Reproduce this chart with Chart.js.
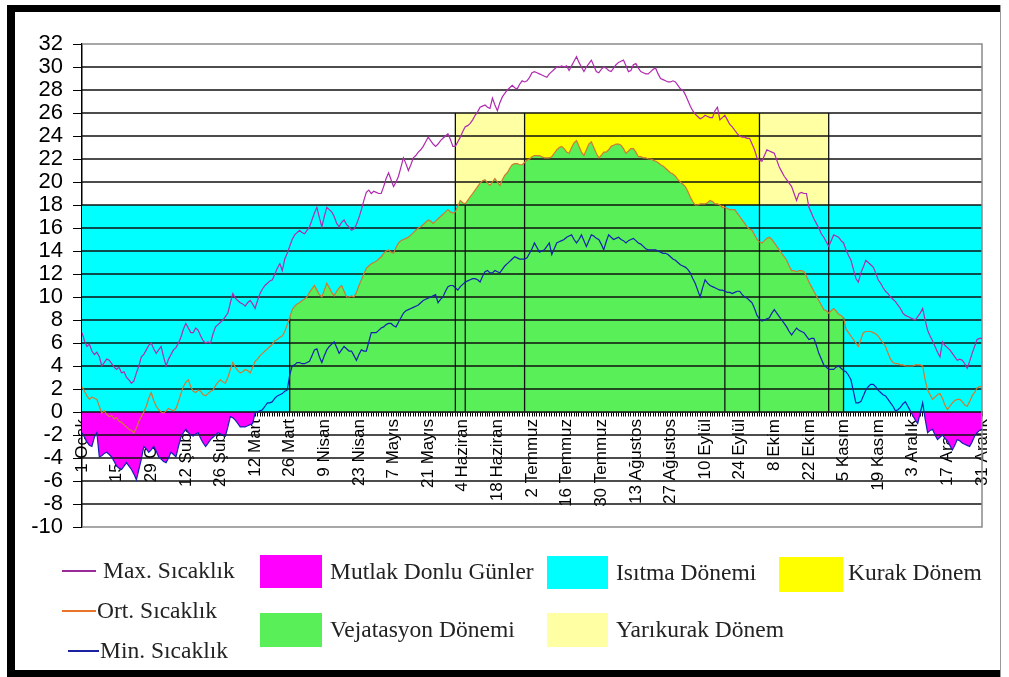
<!DOCTYPE html>
<html><head><meta charset="utf-8">
<script src="https://cdn.jsdelivr.net/npm/chart.js@4"></script>
<style>
html,body{margin:0;padding:0;background:#fff;}
#wrap{position:relative;width:1009px;height:677px;overflow:hidden;background:#fff;}
#c{position:absolute;left:0;top:0;}
.frame{position:absolute;background:#000;}
.lgt{position:absolute;font-family:'Liberation Serif','Times New Roman',serif;font-size:23.5px;color:#222;white-space:nowrap;height:26px;line-height:26px;}
.sw{position:absolute;}
</style></head><body>
<div id="wrap">
<canvas id="c" width="1009" height="677"></canvas>
<div class="frame" style="left:7px;top:5px;width:8px;height:672px"></div>
<div class="frame" style="left:7px;top:5px;width:994px;height:7px"></div>
<div class="frame" style="left:7px;top:670px;width:994px;height:7px"></div>
<div class="frame" style="left:1000px;top:5px;width:1px;height:672px;background:#999"></div>
<div id="legend"></div>
</div>
<script>
// ---------- DATA ----------
const tickLabels = ["1 Ocak","15 Ocak","29 Ocak","12 Şubat","26 Şubat","12 Mart","26 Mart","9 Nisan","23 Nisan","7 Mayıs","21 Mayıs","4 Haziran","18 Haziran","2 Temmuz","16 Temmuz","30 Temmuz","13 Ağustos","27 Ağustos","10 Eylül","24 Eylül","8 Ekim","22 Ekim","5 Kasım","19 Kasım","3 Aralık","17 Aralık","31 Aralık"];
const tickStep = 14;

const maxTemp = [
 6.9,6.2,5.7,5.9,5.3,5.0,5.2,4.8,4.0,4.3,4.6,4.5,4.2,3.9,3.7,3.9,3.4,3.5,3.0,2.8,2.5,2.7,3.4,4.0,4.8,5.0,5.4,5.8,6.0,5.5,5.1,
 5.4,5.7,4.8,4.0,4.6,5.0,5.4,5.6,6.0,6.5,7.2,7.7,7.3,6.9,6.9,7.3,7.1,6.6,6.2,6.0,6.1,6.0,6.8,7.4,7.6,7.8,8.0,8.3,
 8.6,9.5,10.3,9.9,9.7,9.5,9.4,9.2,9.5,9.7,9.4,9.0,9.7,10.3,10.7,11.0,11.2,11.4,11.5,12.0,12.5,12.9,12.3,13.3,13.8,14.4,15.0,15.4,15.6,15.8,15.6,
 15.5,15.8,16.1,16.7,17.3,17.8,16.9,16.1,17.0,17.8,17.6,17.4,17.0,16.4,16.1,16.5,16.7,16.3,16.1,15.8,15.9,16.3,16.9,17.6,18.4,19.1,19.3,19.0,19.2,19.1,
 19.0,19.0,19.6,20.3,20.8,20.2,19.6,20.0,20.5,21.3,22.1,21.6,21.0,21.5,22.1,22.3,22.6,22.8,23.1,23.5,23.9,23.6,23.3,23.1,23.3,23.6,23.8,24.0,24.2,23.7,23.1,
 23.1,23.5,23.9,24.4,24.8,24.9,25.1,25.4,25.8,26.1,26.5,26.6,26.7,26.5,26.4,27.3,26.7,26.2,26.9,27.4,27.7,28.0,28.2,28.4,28.2,28.1,28.5,28.8,28.7,28.8,
 29.1,29.5,29.6,29.5,29.4,29.3,29.2,29.1,29.4,29.6,29.8,30.0,30.0,30.1,30.0,30.1,29.7,30.1,30.5,30.9,30.4,30.0,29.6,30.0,30.3,30.6,30.1,29.6,29.5,29.8,30.0,
 29.9,29.7,29.6,29.9,30.2,30.4,30.5,30.6,30.1,29.6,29.7,30.2,30.3,29.9,29.6,29.5,29.4,29.4,29.6,29.8,29.9,29.4,29.0,28.9,28.8,28.7,28.7,28.8,28.7,28.4,28.1,
 28.0,27.6,27.1,26.6,26.2,25.9,25.7,25.5,25.6,25.8,25.7,25.6,25.6,26.2,26.5,25.4,25.6,25.8,25.4,25.0,24.8,24.5,24.2,24.0,23.9,23.9,23.8,23.8,23.3,22.8,
 22.1,21.9,21.8,22.3,22.8,22.7,22.6,22.5,21.9,21.3,20.9,20.5,20.2,19.9,19.6,19.0,18.4,19.0,19.1,19.0,19.0,17.8,17.3,16.8,16.4,16.0,15.5,15.2,14.8,14.4,14.9,
 15.4,15.3,15.2,14.9,14.7,14.1,13.6,13.2,12.4,11.6,11.3,12.1,12.6,13.2,13.0,12.8,12.6,12.1,11.5,11.2,10.8,10.5,10.3,10.0,9.8,9.6,9.3,9.0,8.6,8.4,
 8.3,8.2,8.1,8.0,8.3,8.6,9.0,8.0,7.1,6.6,6.2,5.7,5.2,4.8,6.1,5.8,5.6,5.4,5.1,4.8,4.5,4.6,4.5,4.2,3.8,4.4,5.1,5.7,6.3,6.4,6.4
];
const avgTemp = [
 2.2,1.8,1.4,1.1,1.3,1.2,1.1,0.5,-0.1,0.1,-0.2,-0.4,-0.3,-0.6,-0.5,-0.8,-0.9,-1.1,-1.3,-1.5,-1.6,-1.8,-1.4,-0.8,-0.4,0.0,0.5,1.2,1.7,1.0,0.5,
 0.2,0.0,-0.1,0.1,0.3,0.2,0.1,0.3,0.9,1.6,2.2,2.6,2.8,2.2,1.8,1.7,1.9,1.8,1.5,1.4,1.6,1.8,1.9,2.3,2.6,2.8,2.6,2.5,
 3.0,3.7,4.3,3.9,3.6,3.4,3.5,3.7,3.6,3.4,3.9,4.4,4.6,4.9,5.1,5.3,5.5,5.7,5.9,6.2,6.3,6.5,6.6,7.0,7.6,8.2,8.9,9.2,9.4,9.5,9.7,
 9.8,10.0,10.4,10.7,11.0,10.6,10.2,10.0,10.6,11.2,10.8,10.4,10.1,10.5,10.8,11.0,10.5,10.0,10.0,10.1,10.0,10.4,11.0,11.5,12.0,12.5,12.7,12.9,13.0,13.1,
 13.3,13.5,13.8,14.0,14.1,13.9,13.8,14.3,14.7,14.9,15.0,15.1,15.2,15.4,15.6,15.8,16.0,16.1,16.3,16.5,16.7,16.6,16.4,16.6,16.8,17.0,17.2,17.4,17.6,17.4,17.3,
 17.4,17.9,18.4,18.2,18.1,18.4,18.7,19.0,19.3,19.6,19.9,20.1,20.2,19.9,19.7,20.0,20.3,20.0,19.7,20.2,20.6,20.8,21.2,21.5,21.6,21.6,21.5,21.5,21.7,21.9,
 22.0,22.2,22.3,22.3,22.3,22.2,22.1,22.1,22.1,22.2,22.5,22.8,23.0,23.1,22.9,22.6,22.5,23.0,23.4,23.6,23.1,22.6,22.3,22.8,23.3,23.5,23.0,22.5,22.1,22.3,22.6,
 22.6,22.8,23.1,23.2,23.3,23.3,23.2,22.9,22.5,22.7,22.9,22.9,22.6,22.2,22.2,22.1,22.1,22.0,22.0,21.9,21.8,21.7,21.5,21.4,21.2,21.0,20.8,20.7,20.5,20.2,20.0,
 19.8,19.6,19.2,18.7,18.3,18.0,18.0,18.1,18.1,18.1,18.2,18.4,18.3,18.1,18.1,18.0,17.8,17.8,17.7,17.6,17.6,17.6,17.3,17.0,16.7,16.4,16.1,15.9,15.8,15.4,
 15.0,14.8,14.7,14.9,15.1,15.2,15.0,14.7,14.4,14.1,13.8,13.5,13.2,12.7,12.3,12.3,12.2,12.3,12.3,12.2,11.8,11.3,10.9,10.5,10.1,9.7,9.3,8.9,8.8,8.6,8.8,
 9.0,8.8,8.5,8.4,8.2,7.2,6.9,6.6,6.3,6.0,5.7,6.3,6.9,7.0,7.0,7.0,6.9,6.8,6.6,6.3,6.0,5.7,5.1,4.6,4.3,4.2,4.2,4.1,4.1,4.0,
 4.0,4.0,4.0,4.1,4.1,4.1,4.0,2.8,1.9,1.5,1.1,1.3,1.5,1.6,1.2,0.6,0.2,0.5,0.8,1.0,1.1,1.1,0.9,0.6,0.5,0.9,1.4,1.7,2.1,2.2,2.2
];
const minTemp = [
 -1.8,-2.2,-2.6,-2.9,-3.0,-2.2,-1.8,-3.9,-3.8,-3.6,-3.5,-3.7,-3.9,-4.3,-4.7,-4.9,-5.0,-4.7,-4.4,-4.7,-5.0,-5.4,-5.9,-5.0,-4.1,-3.0,-3.2,-3.5,-3.3,-3.0,-3.4,
 -3.9,-4.1,-4.3,-4.4,-4.0,-3.5,-3.7,-3.9,-3.0,-2.2,-1.8,-1.5,-1.8,-2.0,-2.1,-1.9,-1.8,-2.3,-2.7,-3.0,-2.7,-2.4,-2.2,-2.0,-1.8,-1.9,-2.0,-2.1,
 -1.3,-0.4,-0.5,-0.7,-1.0,-1.3,-1.3,-1.3,-1.2,-1.1,-1.0,-0.1,0.0,0.1,0.2,0.5,0.8,0.8,0.9,1.2,1.4,1.5,1.6,1.8,1.9,3.2,4.0,4.1,4.3,4.3,4.2,
 4.2,4.3,4.4,4.9,5.4,5.5,4.8,4.3,4.9,5.4,5.7,5.9,6.1,5.6,5.1,5.4,5.7,5.5,5.3,5.3,4.9,4.5,5.0,5.4,5.3,5.3,6.1,6.9,6.9,6.9,
 7.1,7.3,7.4,7.6,7.7,7.7,7.5,7.4,7.8,8.2,8.6,8.8,8.9,9.0,9.1,9.2,9.3,9.5,9.7,9.8,9.9,10.0,10.1,10.2,9.5,9.8,10.0,10.5,10.9,11.0,11.0,
 10.8,10.6,10.9,11.1,11.3,11.4,11.5,11.6,11.6,11.5,11.3,11.8,12.2,12.3,12.1,12.1,12.3,12.2,12.1,12.4,12.7,12.9,13.1,13.3,13.5,13.4,13.3,13.3,13.3,13.4,
 13.8,14.2,14.7,14.3,13.9,14.0,14.1,14.4,14.7,13.7,14.2,14.7,14.8,14.9,15.0,15.2,15.3,15.4,15.0,14.7,15.0,15.4,14.9,14.4,14.9,15.4,15.3,15.1,15.0,14.6,14.1,
 14.8,15.4,15.2,15.0,15.1,15.2,15.0,14.9,14.7,14.9,15.0,15.1,14.9,14.7,14.6,14.4,14.2,14.1,14.1,14.1,14.1,14.0,13.9,13.8,13.8,13.7,13.5,13.3,13.2,13.0,12.8,
 12.7,12.6,12.4,12.1,11.6,11.2,10.6,10.0,10.8,11.5,11.2,11.0,10.9,10.8,10.7,10.6,10.6,10.5,10.4,10.4,10.3,10.4,10.5,10.5,10.2,10.0,9.9,9.7,9.5,9.0,
 8.4,8.1,7.9,8.0,8.1,8.2,8.6,8.9,8.6,8.3,8.0,7.7,7.4,7.0,6.7,7.0,7.3,7.1,7.0,6.9,6.6,6.3,6.4,6.4,5.8,5.1,4.6,4.1,3.9,3.7,3.7,
 3.7,3.9,4.0,3.8,3.6,3.5,3.2,2.8,1.8,0.8,0.8,0.9,1.4,1.9,2.2,2.4,2.4,2.2,1.9,1.7,1.5,1.4,1.1,0.8,0.5,0.1,0.2,0.4,0.7,0.9,
 0.5,0.1,-0.3,-0.7,-1.0,-0.1,0.8,-0.6,-1.8,-1.6,-1.5,-2.0,-2.4,-2.2,-2.0,-2.3,-2.5,-2.9,-3.3,-2.9,-2.4,-2.5,-2.7,-2.8,-2.9,-3.0,-2.6,-2.1,-1.8,-1.6,-1.5
];

// period bounds (day index, 0 = 1 Ocak) and limits
const heatingLimit = 18;
const dryLimit = 26;
const heatingPeriods = [[0,155],[260,364]];
const vegetationPeriod = [84,308];
const aridPeriods = [[179,274]];
const semiAridPeriods = [[151,179],[274,302]];

const yMin = -10, yMax = 32, yStep = 2;

// ---------- BUILD ----------
const dayCount = maxTemp.length;
const categories = Array.from({length: dayCount}, (_, i) => i + 1);
const inPeriods = (periods, i) => periods.some(([a, b]) => i >= a && i <= b);
const levelSeries = (periods, level) => categories.map((_, i) => inPeriods(periods, i) ? level : null);
const vegSeries = avgTemp.map((v, i) => inPeriods([vegetationPeriod], i) ? v : null);

const COL = {max:'#b02ab0', avg:'#d27a30', min:'#1222b0', frost:'#ff00ff', veg:'#58ef58', heat:'#00ffff', arid:'#ffff00', semi:'#ffffa4'};
const legendLineColors = {max:'#9a2a9a', avg:'#e8742a', min:'#1a22a0'};

const area = (label, data, color) => ({label, data, backgroundColor: color, borderColor: 'rgba(0,0,0,0)', borderWidth: 0, pointRadius: 0, fill: 'origin', spanGaps: false});
const datasets = [
  {label:'Max. Sıcaklık', data:maxTemp, borderColor:COL.max, borderWidth:1.2, pointRadius:0, fill:false, legendColor:legendLineColors.max},
  {label:'Ort. Sıcaklık', data:avgTemp, borderColor:COL.avg, borderWidth:1.2, pointRadius:0, fill:false, legendColor:legendLineColors.avg},
  {label:'Min. Sıcaklık', data:minTemp, borderColor:COL.min, borderWidth:1.2, pointRadius:0, fill:false, legendColor:legendLineColors.min},
  {label:'Mutlak Donlu Günler', data:minTemp, backgroundColor:COL.frost, borderColor:'rgba(0,0,0,0)', borderWidth:0, pointRadius:0,
     fill:{target:'origin', above:'rgba(0,0,0,0)', below:COL.frost}},
  area('Vejatasyon Dönemi', vegSeries, COL.veg),
  area('Isıtma Dönemi', levelSeries(heatingPeriods, heatingLimit), COL.heat),
  area('Kurak Dönem', levelSeries(aridPeriods, dryLimit), COL.arid),
  area('Yarıkurak Dönem', levelSeries(semiAridPeriods, dryLimit), COL.semi)
];
const FROST_INDEX = 3;

const edges = [
  [vegetationPeriod[0], avgTemp[vegetationPeriod[0]]],
  [semiAridPeriods[0][0], dryLimit],
  [heatingPeriods[0][1], heatingLimit],
  [aridPeriods[0][0], dryLimit],
  [heatingPeriods[1][0], heatingLimit],
  [aridPeriods[0][1], dryLimit],
  [semiAridPeriods[1][1], dryLimit],
  [vegetationPeriod[1], avgTemp[vegetationPeriod[1]]]
];

const gridOverFills = {
  id: 'gridOverFills',
  afterDatasetDraw(chart, args) {
    if (args.index !== FROST_INDEX) return;
    const {ctx, chartArea: a, scales: {x, y}} = chart;
    ctx.save();
    ctx.strokeStyle = '#111';
    ctx.lineWidth = 1.3;
    edges.forEach(([d, top]) => {
      const px = x.getPixelForValue(d);
      ctx.beginPath();
      ctx.moveTo(px, y.getPixelForValue(0));
      ctx.lineTo(px, y.getPixelForValue(top));
      ctx.stroke();
    });
    y.ticks.forEach(t => {
      if (t.value === yMax || t.value === yMin) return;
      const py = y.getPixelForValue(t.value);
      ctx.beginPath(); ctx.moveTo(a.left, py); ctx.lineTo(a.right, py); ctx.stroke();
    });
    ctx.strokeStyle = '#8a8a8a';
    ctx.lineWidth = 1.5;
    ctx.beginPath();
    ctx.moveTo(a.left, a.top); ctx.lineTo(a.right, a.top); ctx.lineTo(a.right, a.bottom); ctx.lineTo(a.left, a.bottom);
    ctx.stroke();
    ctx.restore();
  }
};

const chart = new Chart(document.getElementById('c'), {
  type: 'line',
  data: {labels: categories, datasets},
  options: {
    responsive: false, animation: false, devicePixelRatio: 1,
    layout: {padding: {left: 0, top: 44, right: 27, bottom: 150}},
    plugins: {legend: {display: false}, tooltip: {enabled: false}},
    elements: {line: {tension: 0}, point: {radius: 0}},
    scales: {
      x: {
        type: 'category', position: {y: 0}, offset: false, z: 1,
        grid: {display: true, drawOnChartArea: false, drawTicks: true, tickLength: 4, color: '#000', lineWidth: 1},
        border: {display: true, color: '#000', width: 1.5},
        ticks: {autoSkip: false, maxRotation: 90, minRotation: 90, padding: 3, color: '#000',
          font: {family: "'Liberation Sans', Arial, sans-serif", size: 17},
          callback: (v, i) => (i % tickStep === 0 ? tickLabels[i / tickStep] : '')},
        afterFit(s) { s.height = 0; s.paddingLeft = 0; s.paddingRight = 0; }
      },
      y: {
        min: yMin, max: yMax,
        ticks: {stepSize: yStep, autoSkip: false, padding: 10, color: '#000', font: {family: "'Liberation Sans', Arial, sans-serif", size: 22}},
        grid: {drawOnChartArea: false, drawTicks: true, tickLength: 9, color: '#000'},
        border: {display: true, color: '#000', width: 1.5},
        afterFit(s) { s.width = 82; s.paddingTop = 0; s.paddingBottom = 0; }
      }
    }
  },
  plugins: [gridOverFills]
});

// ---------- LEGEND (HTML, from dataset labels/colours) ----------
const legendLayout = [
  {i:0, kind:'line', x:62, w:34, cy:571, tx:103},
  {i:1, kind:'line', x:62, w:34, cy:611, tx:97},
  {i:2, kind:'line', x:68, w:31, cy:651, tx:100},
  {i:3, kind:'box', x:260, y:555, w:62, h:33, cy:572, tx:330},
  {i:4, kind:'box', x:260, y:613, w:62, h:34, cy:630, tx:330},
  {i:5, kind:'box', x:547, y:556, w:61, h:33, cy:573, tx:616},
  {i:7, kind:'box', x:547, y:613, w:61, h:34, cy:630, tx:616},
  {i:6, kind:'box', x:779, y:557, w:64, h:35, cy:573, tx:848}
];
const lg = document.getElementById('legend');
legendLayout.forEach(item => {
  const ds = datasets[item.i];
  const sw = document.createElement('div');
  sw.className = 'sw';
  if (item.kind === 'line') {
    Object.assign(sw.style, {left: item.x + 'px', top: (item.cy - 1) + 'px', width: item.w + 'px', height: '2px', background: ds.legendColor});
  } else {
    Object.assign(sw.style, {left: item.x + 'px', top: item.y + 'px', width: item.w + 'px', height: item.h + 'px', background: ds.backgroundColor});
  }
  lg.appendChild(sw);
  const t = document.createElement('div');
  t.className = 'lgt';
  t.textContent = ds.label;
  Object.assign(t.style, {left: item.tx + 'px', top: (item.cy - 14) + 'px'});
  lg.appendChild(t);
});
</script>
</body></html>
